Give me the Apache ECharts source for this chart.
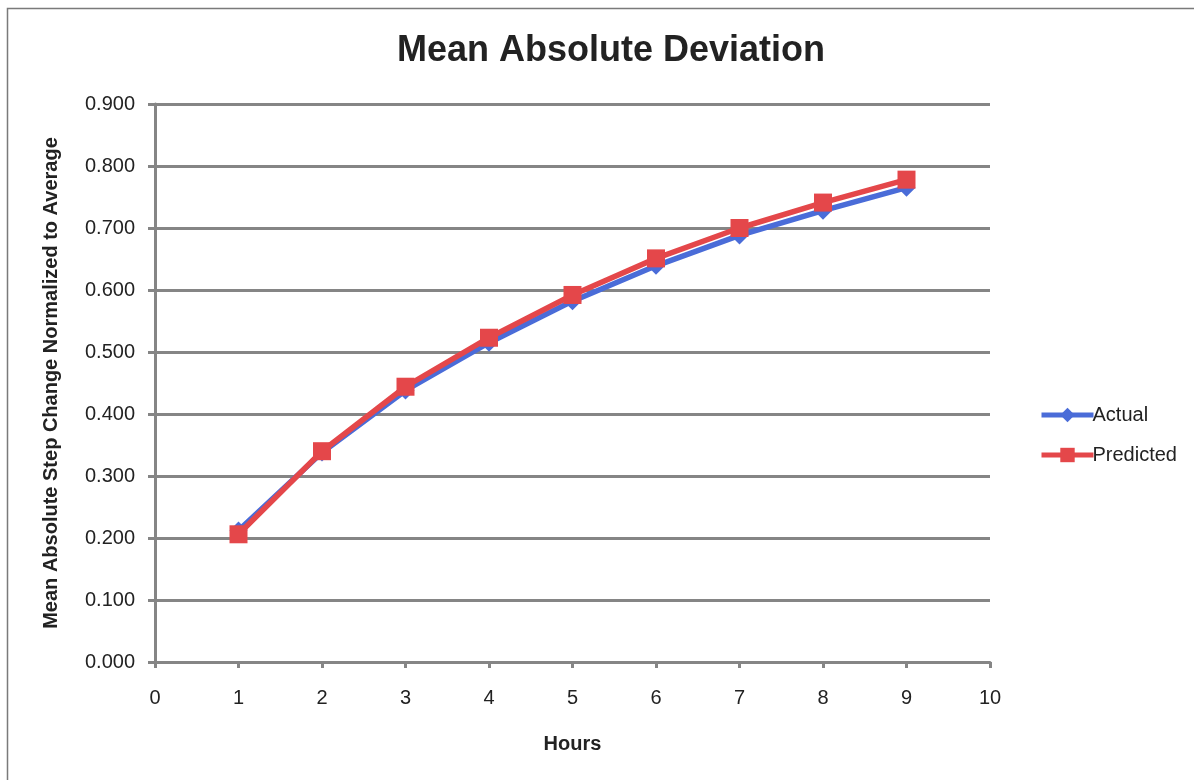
<!DOCTYPE html>
<html>
<head>
<meta charset="utf-8">
<script src="https://cdn.jsdelivr.net/npm/echarts@6/dist/echarts.min.js"></script>
<style>
  html, body { margin: 0; padding: 0; background: #fff; }
  #chart { width: 1194px; height: 780px; }
</style>
</head>
<body>
<div id="chart"></div>
<script>
// Hours ahead
const hours = [1, 2, 3, 4, 5, 6, 7, 8, 9];
// Mean absolute step change, normalized to average
const actual = [0.212, 0.338, 0.438, 0.515, 0.582, 0.639, 0.688, 0.728, 0.765];
const predicted = [0.206, 0.340, 0.444, 0.523, 0.592, 0.651, 0.700, 0.741, 0.778];

const FONT = '"Liberation Sans", Arial, sans-serif';
const GRID_GRAY = '#858585';

const pairs = (xs, ys) => xs.map((x, i) => [x, ys[i]]);

const chart = echarts.init(document.getElementById('chart'), null, { renderer: 'canvas' });

chart.setOption({
  backgroundColor: '#ffffff',
  animation: false,
  graphic: [{
    type: 'rect',
    shape: { x: 7.5, y: 8.5, width: 1300, height: 900 },
    style: { fill: 'none', stroke: '#7a7a7a', lineWidth: 1.5 },
    z: -1
  }],
  title: {
    text: 'Mean Absolute Deviation',
    left: 606,
    textAlign: 'center',
    top: 28,
    textStyle: { fontFamily: FONT, fontSize: 36, fontWeight: 'bold', color: '#222' }
  },
  legend: {
    orient: 'vertical',
    left: 1034,
    top: 400,
    itemWidth: 52,
    itemHeight: 18,
    itemGap: 20,
    lineStyle: { width: 5 },
    textStyle: { fontFamily: FONT, fontSize: 20, color: '#222', padding: [0, 0, 0, -6] },
    data: ['Actual', 'Predicted']
  },
  grid: { left: 155, right: 204, top: 104, bottom: 118, containLabel: false },
  xAxis: {
    type: 'value',
    min: 0,
    max: 10,
    interval: 1,
    name: 'Hours',
    nameLocation: 'middle',
    nameGap: 72,
    nameTextStyle: { fontFamily: FONT, fontSize: 20, fontWeight: 'bold', color: '#222' },
    axisLine: { lineStyle: { color: GRID_GRAY, width: 3 } },
    axisTick: { show: true, length: 6, lineStyle: { color: GRID_GRAY, width: 3 } },
    axisLabel: { fontFamily: FONT, fontSize: 20, color: '#222', margin: 26 },
    splitLine: { show: false }
  },
  yAxis: {
    type: 'value',
    min: 0,
    max: 0.9,
    interval: 0.1,
    name: 'Mean Absolute Step Change Normalized to Average',
    nameLocation: 'middle',
    nameGap: 94,
    nameTextStyle: { fontFamily: FONT, fontSize: 20, fontWeight: 'bold', color: '#222' },
    axisLine: { show: true, lineStyle: { color: GRID_GRAY, width: 3 } },
    axisTick: { show: true, length: 7, lineStyle: { color: GRID_GRAY, width: 3 } },
    axisLabel: {
      fontFamily: FONT, fontSize: 20, color: '#222', margin: 20,
      formatter: v => v.toFixed(3)
    },
    splitLine: { show: true, lineStyle: { color: GRID_GRAY, width: 3 } }
  },
  series: [
    {
      name: 'Actual',
      type: 'line',
      data: pairs(hours, actual),
      symbol: 'diamond',
      symbolSize: 18,
      lineStyle: { color: '#4a6cd8', width: 5.5 },
      itemStyle: { color: '#4a6cd8' },
      z: 2
    },
    {
      name: 'Predicted',
      type: 'line',
      data: pairs(hours, predicted),
      symbol: 'rect',
      symbolSize: 18,
      lineStyle: { color: '#e4474a', width: 5.5 },
      itemStyle: { color: '#e4474a' },
      z: 3
    }
  ]
});
</script>
</body>
</html>
